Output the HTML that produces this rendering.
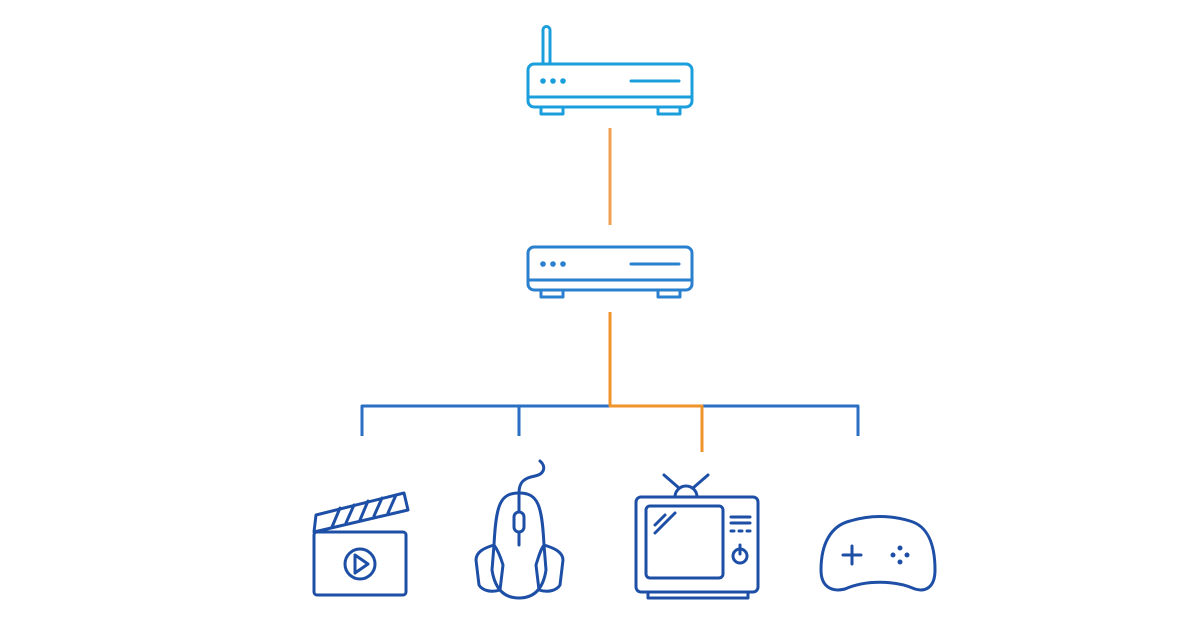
<!DOCTYPE html>
<html><head><style>html,body{margin:0;padding:0;background:#fff;width:1200px;height:630px;overflow:hidden}</style></head>
<body>
<svg width="1200" height="630" viewBox="0 0 1200 630" xmlns="http://www.w3.org/2000/svg" fill="none" stroke-linecap="round" stroke-linejoin="round">
<!-- router 1 -->
<g stroke="#1b9fdc" stroke-width="3">
<path d="M543 63 V30 a3.5 3.5 0 0 1 7 0 V63"/>
<rect x="528" y="64" width="164" height="43" rx="6"/>
<line x1="529" y1="97" x2="691" y2="97"/>
<rect x="541" y="107" width="22" height="7"/>
<rect x="658" y="107" width="22" height="7"/>
<line x1="631" y1="81" x2="679" y2="81"/>
</g>
<g fill="#1b9fdc"><circle cx="543" cy="81" r="2.8"/><circle cx="553" cy="81" r="2.8"/><circle cx="563" cy="81" r="2.8"/></g>
<!-- orange -->
<g stroke="#f0a050" stroke-width="3" stroke-linecap="butt">
<line x1="610" y1="128" x2="610" y2="225"/>
</g>
<!-- router 2 -->
<g stroke="#2a80cf" stroke-width="3">
<rect x="528" y="247" width="164" height="43" rx="6"/>
<line x1="529" y1="280" x2="691" y2="280"/>
<rect x="541" y="290" width="22" height="7"/>
<rect x="658" y="290" width="22" height="7"/>
<line x1="631" y1="264" x2="679" y2="264"/>
</g>
<g fill="#2a80cf"><circle cx="543" cy="264" r="2.8"/><circle cx="553" cy="264" r="2.8"/><circle cx="563" cy="264" r="2.8"/></g>
<!-- tree -->
<g stroke="#2a6fc4" stroke-width="3" stroke-linecap="butt">
<path d="M362 436 V406 H858 V436"/>
<line x1="519" y1="406" x2="519" y2="436"/>
</g>
<g stroke="#f0932b" stroke-width="3" stroke-linecap="butt">
<path d="M610 312 V406 H702 V452"/>
</g>
<!-- icons -->
<g stroke="#1e4fa6" stroke-width="3">
<!-- clapper -->
<rect x="314" y="532" width="92" height="63" rx="3"/>
<path d="M314 532 L316 515 L404 493 L408 510 Z"/>
<path d="M332 527 L340 508 M346 523 L354 505 M360 520 L368 501 M374 516 L382 498 M388 513 L396 495"/>
<circle cx="360" cy="564" r="15"/>
<path d="M355 555 L368 564 L355 573 Z"/>
<!-- mouse -->
<path d="M540 461 C546 466 545 474 535 476 C524 478 519 482 519 493"/>
<path d="M519 493 C500 493 496 505 494 545 L492 570 C495 590 505 598 519 598 C533 598 543 590 546 570 L544 545 C542 505 538 493 519 493 Z"/>
<line x1="519" y1="493" x2="519" y2="545"/>
<rect x="514" y="512" width="10" height="20" rx="5" fill="#fff"/>
<path d="M494 545 C484 548 476 552 476 560 L479 585 C482 590 490 593 500 590 L503 565 C500 555 497 549 494 545 Z"/>
<path d="M544 545 C554 548 563 552 563 560 L560 585 C557 590 549 593 539 590 L536 565 C539 555 541 549 544 545 Z"/>
<!-- tv -->
<rect x="636" y="497" width="122" height="95" rx="5"/>
<rect x="646" y="506" width="77" height="72" rx="4"/>
<rect x="648" y="592" width="100" height="6"/>
<path d="M675 497 a11 11 0 0 1 22 0"/>
<path d="M664 475 L679 488 M708 475 L693 488"/>
<path d="M655 525 L665 515 M655 533 L675 513"/>
<path d="M731 517 H750 M731 523 H750"/>
<path d="M731 531 H734 M739 531 H742 M747 531 H750"/>
<circle cx="740" cy="556" r="7"/>
<line x1="740" y1="545" x2="740" y2="554"/>
<!-- gamepad -->
<path d="M850 521 C870 515 890 515 910 521 C928 526 935 545 935 570 C935 588 925 592 915 589 C895 580 865 580 845 589 C833 592 821 588 821 570 C821 545 830 526 850 521 Z"/>
<path d="M843 555 H861 M852 546 V564"/>
</g>
<g fill="#1e4fa6"><circle cx="900" cy="548" r="2.5"/><circle cx="893" cy="555" r="2.5"/><circle cx="907" cy="555" r="2.5"/><circle cx="900" cy="562" r="2.5"/></g>
</svg>
</body></html>
